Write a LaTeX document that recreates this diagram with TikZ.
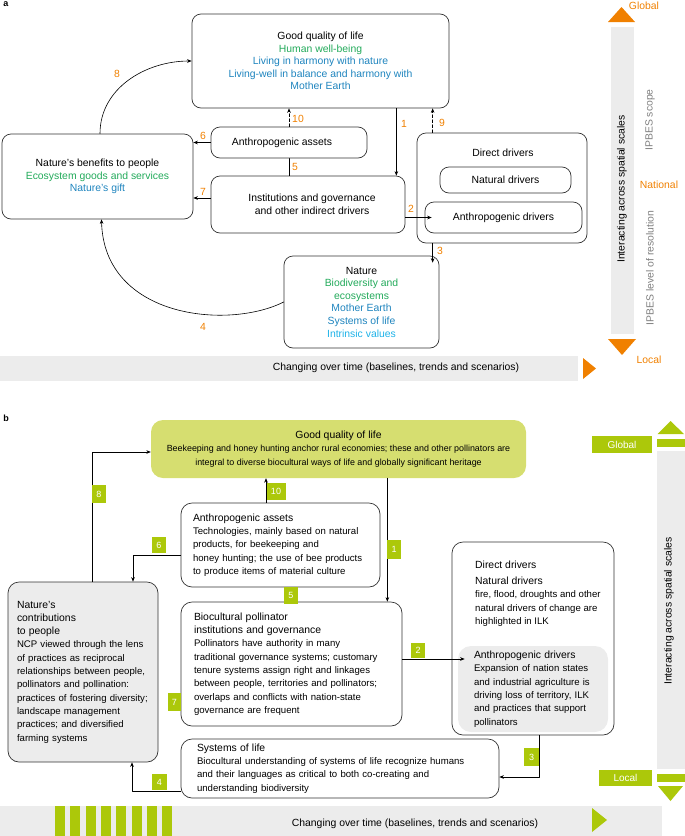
\documentclass[tikz,border=0pt]{standalone}
\usepackage{fontspec}
\setmainfont{Liberation Sans}
\usetikzlibrary{arrows.meta, positioning}

\definecolor{ipbesgreen}{RGB}{34,170,90}
\definecolor{ipbesblue}{RGB}{30,132,190}
\definecolor{ipbescyan}{RGB}{30,178,232}
\definecolor{ipbesorange}{RGB}{240,128,0}
\definecolor{bargray}{RGB}{236,236,236}
\definecolor{scopegray}{RGB}{128,128,128}
\definecolor{pollgreen}{RGB}{172,200,10}
\definecolor{gqlfill}{RGB}{214,222,112}

\newcommand{\boxhead}{\fontsize{10.4}{13.3}\selectfont}

\tikzset{
  abox/.style={draw=black!80, line width=0.7pt, rounded corners=9pt, align=center, inner sep=0pt,
    font=\fontsize{10.4}{12.6}\selectfont},
  bbox/.style={draw=black!80, line width=0.7pt, rounded corners=11pt, align=left, inner ysep=0pt,
    font=\fontsize{9.6}{13.3}\selectfont},
  arr/.style={-{Stealth[length=4.5pt,width=3.6pt]}, line width=0.6pt},
  dsh/.style={dash pattern=on 3pt off 2pt},
  num/.style={text=ipbesorange, font=\fontsize{10.4}{12}\selectfont, inner sep=0pt},
  tag/.style={fill=pollgreen, text=white, inner sep=0pt, font=\fontsize{9}{10}\selectfont},
  scaletxt/.style={font=\fontsize{10.4}{12}\selectfont, inner sep=0pt},
}

\begin{document}
\begin{tikzpicture}[x=1pt, y=-1pt, line cap=round, line join=round]
    \useasboundingbox (0,0) rectangle (685,836);

    % ---------------- panel a ----------------
    \node[font=\bfseries\fontsize{9}{10}\selectfont, inner sep=0pt] (pa) at (6,4) {a};

    % boxes
    \node[abox, minimum width=257pt, minimum height=94pt] (gql) at (320.5,61) {Good quality of life\\
      \textcolor{ipbesgreen}{Human well-being}\\
      \textcolor{ipbesblue}{Living in harmony with nature}\\
      \textcolor{ipbesblue}{Living-well in balance and harmony with}\\
      \textcolor{ipbesblue}{Mother Earth}};
    \node[abox, minimum width=156pt, minimum height=31pt] (aa) at (289,142.5) {\hspace{-14pt}Anthropogenic assets};
    \node[abox, minimum width=191pt, minimum height=85pt] (nbp) at (97.5,176.5) {Nature’s benefits to people\\
      \textcolor{ipbesgreen}{Ecosystem goods and services}\\
      \textcolor{ipbesblue}{Nature’s gift}};
    \node[abox, minimum width=194pt, minimum height=57pt] (inst) at (308,204.5) {\hspace{8pt}Institutions and governance\\
      \hspace{8pt}and other indirect drivers};
    \node[abox, minimum width=170pt, minimum height=110pt] (dd) at (502,188) {};
    \node[abox, draw=none] (ddlabel) at (503,153) {Direct drivers};
    \node[abox, minimum width=131pt, minimum height=26pt] (nd) at (505.5,180) {Natural drivers};
    \node[abox, minimum width=157pt, minimum height=31pt] (ad) at (503.5,217.5) {Anthropogenic drivers};
    \node[abox, minimum width=155pt, minimum height=92pt] (nat) at (361.5,302) {Nature\\
      \textcolor{ipbesgreen}{Biodiversity and}\\
      \textcolor{ipbesgreen}{ecosystems}\\
      \textcolor{ipbesblue}{Mother Earth}\\
      \textcolor{ipbesblue}{Systems of life}\\
      \textcolor{ipbescyan}{Intrinsic values}};

    % connectors
    \coordinate (c1) at ([xshift=-9pt]inst.north east);
    \coordinate (c7) at ([yshift=6.5pt]inst.west);
    \coordinate (c9) at ([xshift=16pt]dd.north west);
    \coordinate (c3) at ([xshift=16pt]dd.south west);
    \draw[arr] (c1 |- gql.south) -- (c1);                          % 1
    \draw[arr, shorten >=-7pt] (inst.east |- ad.west) -- (ad.west);  % 2
    \draw[arr, shorten >=-7pt] (c3) -- (c3 |- nat.north);          % 3
    \draw[arr] (nat.west) .. controls (228,330) and (104,318) .. ([xshift=4pt]nbp.south); % 4
    \draw (aa.south) -- (aa.south |- inst.north);                  % 5
    \draw[arr] (aa.west) -- (aa.west -| nbp.east);                 % 6
    \draw[arr] (c7) -- (c7 -| nbp.east);                           % 7
    \draw[arr] ([xshift=2.5pt]nbp.north) to[out=90, in=180] (gql.west); % 8
    \draw[arr, dsh] (c9) -- (c9 |- gql.south);                     % 9
    \draw[arr, dsh] (aa.north) -- (aa.north |- gql.south);         % 10

    % numbers
    \node[num] (n1) at (404,124) {1};
    \node[num] (n2) at (411,209) {2};
    \node[num] (n3) at (440,251) {3};
    \node[num] (n4) at (203,327) {4};
    \node[num] (n5) at (295,167) {5};
    \node[num] (n6) at (203,136) {6};
    \node[num] (n7) at (203,192) {7};
    \node[num] (n8) at (117,74) {8};
    \node[num] (n9) at (442,123) {9};
    \node[num] (n10) at (298,119) {10};

    % time bar
    \fill[bargray] (0,356) rectangle (578,381);
    \fill[ipbesorange] (583,358) -- (596,368.5) -- (583,379) -- cycle;
    \node[scaletxt] (timea) at (396,368) {Changing over time (baselines, trends and scenarios)};

    % spatial bar
    \fill[bargray] (611,27) rectangle (634,334);
    \fill[ipbesorange] (608,22) -- (635,22) -- (621.5,7) -- cycle;
    \fill[ipbesorange] (608,339) -- (636,339) -- (622,355) -- cycle;
    \node[scaletxt, rotate=90] (spacea) at (622,189) {Interacting across spatial scales};
    \node[scaletxt, rotate=90, text=scopegray] (scope) at (650,120) {IPBES scope};
    \node[scaletxt, rotate=90, text=scopegray] (resol) at (650,268) {IPBES level of resolution};
    \node[scaletxt, text=ipbesorange] (globala) at (644,6) {Global};
    \node[scaletxt, text=ipbesorange] (nationala) at (659,185) {National};
    \node[scaletxt, text=ipbesorange] (locala) at (649,360) {Local};

    % ---------------- panel b ----------------
    \node[font=\bfseries\fontsize{9}{10}\selectfont, inner sep=0pt] (pb) at (6,418) {b};

    \node[fill=gqlfill, rounded corners=12pt, align=center, inner sep=0pt, minimum width=375pt, minimum height=58pt,
      font=\fontsize{8.9}{13.8}\selectfont] (gqlb) at (338.5,449) {{\boxhead Good quality of life}\\
      Beekeeping and honey hunting anchor rural economies; these and other pollinators are\\
      integral to diverse biocultural ways of life and globally significant heritage};
    \node[bbox, inner xsep=12pt, text width=175pt, minimum height=84pt] (aab) at (280.5,545) {{\boxhead Anthropogenic assets}\\
      Technologies, mainly based on natural\\
      products, for beekeeping and\\
      honey hunting; the use of bee products\\
      to produce items of material culture};
    \node[bbox, inner xsep=13pt, text width=195pt, minimum height=124pt] (instb) at (291.5,664) {{\boxhead Biocultural pollinator}\\
      {\boxhead institutions and governance}\\
      Pollinators have authority in many\\
      traditional governance systems; customary\\
      tenure systems assign right and linkages\\
      between people, territories and pollinators;\\
      overlaps and conflicts with nation-state\\
      governance are frequent};
    \node[bbox, fill=bargray, inner xsep=9pt, text width=132pt, minimum height=180pt] (ncp) at (83,672) {{\boxhead Nature’s}\\
      {\boxhead contributions}\\
      {\boxhead to people}\\
      NCP viewed through the lens\\
      of practices as reciprocal\\
      relationships between people,\\
      pollinators and pollination:\\
      practices of fostering diversity;\\
      landscape management\\
      practices; and diversified\\
      farming systems};
    \node[bbox, minimum width=162pt, minimum height=193pt, inner sep=0pt] (ddb) at (533,638.5) {};
    \node[anchor=north west, align=left, inner sep=0pt, font=\fontsize{9.6}{13.3}\selectfont] (ddbtext) at (475,561) {{\boxhead Direct drivers}\\[2.5pt]
      {\boxhead Natural drivers}\\
      fire, flood, droughts and other\\
      natural drivers of change are\\
      highlighted in ILK};
    \node[bbox, draw=none, fill=bargray, rounded corners=13pt, inner xsep=16pt, text width=118pt, minimum height=86pt] (adb) at (533,689) {{\boxhead Anthropogenic drivers}\\
      Expansion of nation states\\
      and industrial agriculture is\\
      driving loss of territory, ILK\\
      and practices that support\\
      pollinators};
    \node[bbox, inner xsep=16pt, text width=286pt, minimum height=59pt] (sol) at (340,768.5) {{\boxhead Systems of life}\\
      Biocultural understanding of systems of life recognize humans\\
      and their languages as critical to both co-creating and\\
      understanding biodiversity};

    % connectors
    \coordinate (d1) at ([xshift=-15pt]instb.north east);
    \coordinate (d5) at ([xshift=10.5pt]aab.south);
    \coordinate (d10) at ([xshift=-14.5pt]aab.north);
    \draw[arr] (d1 |- gqlb.south) -- (d1);                                   % 1
    \draw[arr, shorten >=-7pt] ([yshift=5pt]instb.east) -- ([yshift=5pt]instb.east -| adb.west); % 2
    \draw[arr] ([xshift=6pt]ddb.south) |- ([yshift=-8.5pt]sol.east);          % 3
    \draw[arr] ([yshift=-22.5pt]sol.west) -| ([xshift=49pt]ncp.south);        % 4
    \draw (d5) -- (d5 |- instb.north);                                       % 5
    \draw[arr] ([yshift=-10pt]aab.west) -| ([xshift=50pt]ncp.north);          % 6
    \draw[arr] ([xshift=9pt]ncp.north) |- ([yshift=-3pt]gqlb.west);           % 8
    \draw[arr] (d10) -- (d10 |- gqlb.south);                                  % 10

    % number tags
    \node[tag, minimum width=14pt, minimum height=19pt] (t1) at (394,549) {1};
    \node[tag, minimum width=14pt, minimum height=15pt] (t2) at (418,650) {2};
    \node[tag, minimum width=15pt, minimum height=18pt] (t3) at (531.5,757) {3};
    \node[tag, minimum width=15pt, minimum height=16pt] (t4) at (159.5,782) {4};
    \node[tag, minimum width=14pt, minimum height=17pt] (t5) at (291,595.5) {5};
    \node[tag, minimum width=14pt, minimum height=16pt] (t6) at (159,545) {6};
    \node[tag, minimum width=13pt, minimum height=18pt] (t7) at (174.5,702) {7};
    \node[tag, minimum width=14pt, minimum height=18pt] (t8) at (99,494) {8};
    \node[tag, minimum width=19pt, minimum height=17pt] (t10) at (276,491.5) {10};

    % time bar
    \fill[bargray] (0,806) rectangle (662,836);
    \foreach \s in {0,...,7}
      \fill[pollgreen] ({55+15.3*\s},806) rectangle ++(10,30);
    \fill[pollgreen] (592,808) -- (607,820) -- (592,832) -- cycle;
    \node[scaletxt] (timeb) at (415,824) {Changing over time (baselines, trends and scenarios)};

    % spatial bar
    \fill[bargray] (657,451) rectangle (685,769);
    \fill[pollgreen] (657,439) rectangle (685,447);
    \fill[pollgreen] (657.5,434) -- (684,434) -- (670.5,421) -- cycle;
    \fill[pollgreen] (657,774) rectangle (685,782);
    \fill[pollgreen] (658,786) -- (683,786) -- (670.5,801) -- cycle;
    \node[tag, font=\fontsize{10}{12}\selectfont, minimum width=60pt, minimum height=17pt] (globalb) at (622,444.5) {Global};
    \node[tag, font=\fontsize{10}{12}\selectfont, minimum width=53pt, minimum height=16pt] (localb) at (625.5,778) {Local};
    \node[scaletxt, rotate=90] (spaceb) at (669,611) {Interacting across spatial scales};

\end{tikzpicture}
\end{document}
